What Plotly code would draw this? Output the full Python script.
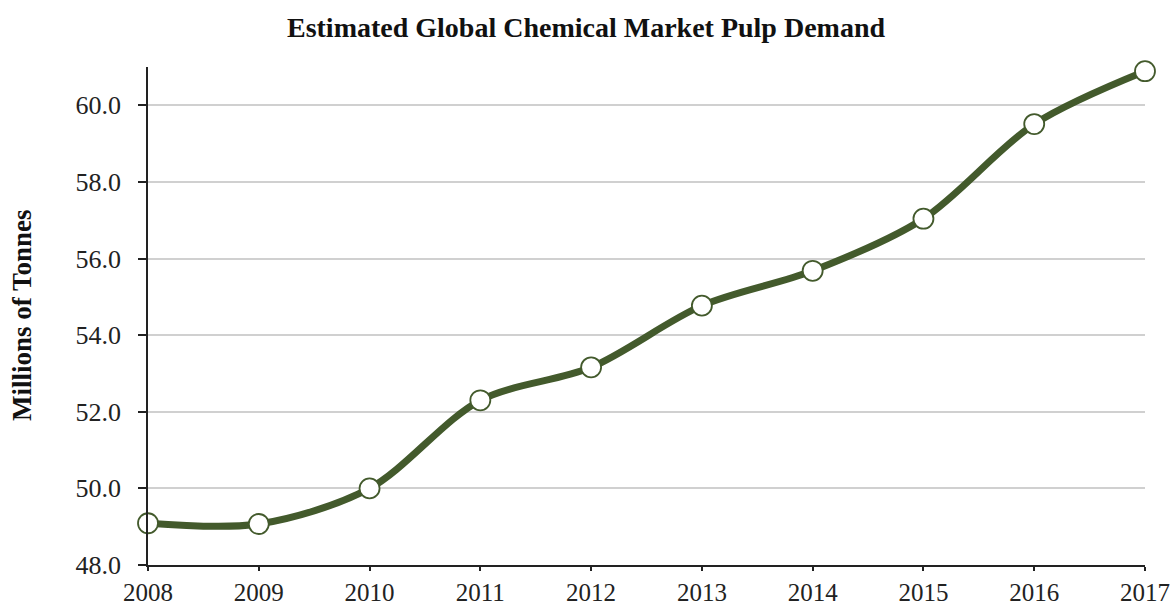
import plotly.graph_objects as go

years = [2008, 2009, 2010, 2011, 2012, 2013, 2014, 2015, 2016, 2017]
demand = [49.09, 49.07, 50.0, 52.3, 53.16, 54.77, 55.68, 57.04, 59.51, 60.89]
y_ticks = [48, 50, 52, 54, 56, 58, 60]

green = "#435a2c"
font_family = "Liberation Serif, Times New Roman, serif"

W, H = 1172, 606
L, R, T, B = 148, 27, 67, 41
plot_w = W - L - R
plot_h = H - T - B

fig = go.Figure()
fig.add_trace(go.Scatter(
    x=years, y=demand, mode="lines+markers",
    line=dict(color=green, width=7, shape="spline", smoothing=0.9),
    marker=dict(size=20, color="white", line=dict(color=green, width=1.8)),
    cliponaxis=False, showlegend=False,
))

fig.update_layout(
    width=W, height=H,
    margin=dict(l=L, r=R, t=T, b=B),
    paper_bgcolor="white", plot_bgcolor="white",
    font=dict(family=font_family, size=26, color="#222"),
    title=dict(text="<b>Estimated Global Chemical Market Pulp Demand</b>",
               x=0.5, xref="container", xanchor="center",
               y=1 - 27 / H, yref="container", yanchor="middle",
               font=dict(family=font_family, size=28, color="#111")),
    annotations=[dict(
        text="<b>Millions of Tonnes</b>", textangle=-90,
        x=(22 - L) / plot_w, xref="paper",
        y=((H - 315) - B) / plot_h, yref="paper",
        xanchor="center", yanchor="middle",
        showarrow=False, font=dict(family=font_family, size=27, color="#111"),
    )],
)

fig.update_xaxes(
    range=[2008, 2017], tickmode="array", tickvals=years,
    ticktext=[str(y) for y in years], automargin=False,
    tickfont=dict(size=25),
    showgrid=False, showline=True, linecolor="#222", linewidth=1.5,
    ticks="outside", ticklen=4, tickcolor="#222", tickwidth=1.5,
    zeroline=False,
)
fig.update_yaxes(
    range=[48, 61], tickmode="array", tickvals=y_ticks,
    tickformat=".1f", automargin=False, ticklabelstandoff=12,
    showgrid=True, gridcolor="#d0d0d0", gridwidth=1.5,
    showline=True, linecolor="#222", linewidth=1.5,
    ticks="outside", ticklen=8, tickcolor="#222", tickwidth=1.5,
    zeroline=False,
)

fig.write_html("out.html", config={"displayModeBar": False},
               post_script="document.body.style.margin='0';")
